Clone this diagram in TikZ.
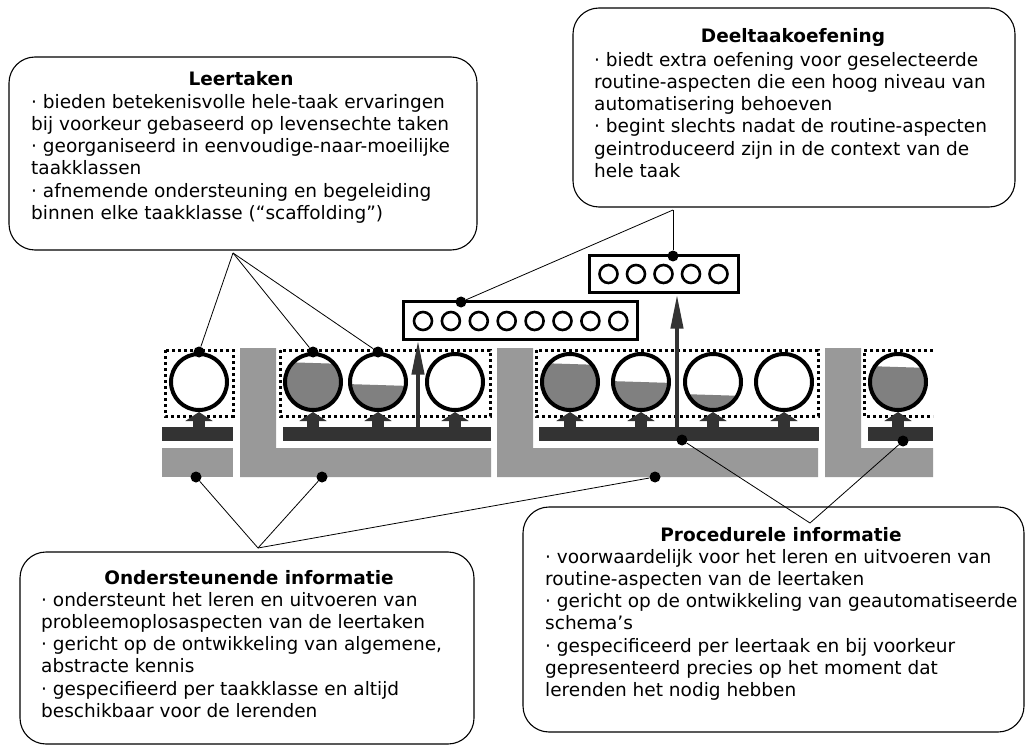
\documentclass[tikz,border=0pt]{standalone}
\usepackage{fontspec}
\setmainfont{DejaVu Sans}
\usetikzlibrary{positioning, calc, arrows.meta}

\definecolor{supportgrey}{gray}{0.6}
\definecolor{procgrey}{gray}{0.2}
\definecolor{levelgrey}{gray}{0.5}

\tikzset{
  callout/.style={draw, line width=1.1pt, rounded corners=26pt},
  calltitle/.style={font=\bfseries, anchor=base, inner sep=0pt},
  calltext/.style={align=left, anchor=north west, inner sep=0pt},
  taskcircle/.style={circle, draw, line width=4pt, minimum size=56pt, inner sep=0pt},
  partcircle/.style={circle, draw, line width=2.6pt, minimum size=18pt, inner sep=0pt},
  partbox/.style={draw, line width=3pt, inner sep=0pt},
  classframe/.style={line width=3pt, dash pattern=on 3pt off 3pt},
  procbar/.style={fill=procgrey, inner sep=0pt, outer sep=0pt, minimum height=14pt},
  enddot/.style={circle, fill=black, inner sep=0pt, minimum size=11pt},
  pointer/.style={line width=0.8pt},
  smallarrow/.style={procgrey, line width=12pt, -{Triangle[width=27pt,length=9pt]}},
  tallarrow/.style={procgrey, line width=4pt, -{Triangle[width=12pt,length=34pt]}},
}

\begin{document}
\begin{tikzpicture}[x=1pt, y=-1pt]
  \useasboundingbox (0,0) rectangle (1026,746);
  \fontsize{18.5}{22.2}\selectfont

  % support information (light grey)
  \fill[supportgrey] (162,448) rectangle (233,477);
  \fill[supportgrey] (240,348) -- (276,348) -- (276,448) -- (491,448) -- (491,477) -- (240,477) -- cycle;
  \fill[supportgrey] (497,348) -- (533,348) -- (533,448) -- (818,448) -- (818,477) -- (497,477) -- cycle;
  \fill[supportgrey] (825,348) -- (861,348) -- (861,448) -- (933,448) -- (933,477) -- (825,477) -- cycle;

  % procedural information (dark bars)
  \node[procbar, minimum width=71pt] (bar1) at (197.5,434) {};
  \node[procbar, minimum width=208pt] (bar2) at (387,434) {};
  \node[procbar, minimum width=280pt] (bar3) at (679,434) {};
  \node[procbar, minimum width=65pt] (bar4) at (900.5,434) {};

  % task classes
  \draw[classframe] (165,350) rectangle (233,416);
  \draw[classframe] (280,350) rectangle (490,416);
  \draw[classframe] (536,350) rectangle (818,416);
  \draw[classframe] (933,350) -- (864,350) -- (864,416) -- (933,416);

  % learning tasks
  \foreach \name/\x/\lev/\bar in {t1/199/430/bar1, t2/313/362/bar2, t3/378/384/bar2,
      t4/455/430/bar2, t5/570/363/bar3, t6/641/381/bar3, t7/713/394/bar3,
      t8/784/430/bar3, t9/898/366/bar4} {
    \begin{scope}
      \clip (\x,382) circle (28pt);
      \fill[levelgrey] (\x-32,\lev) -- (\x+32,\lev+2) -- (\x+32,420) -- (\x-32,420) -- cycle;
    \end{scope}
    \node[taskcircle] (\name) at (\x,382) {};
    \draw[smallarrow] (\bar.north -| \name.south) -- (\name.south);
  }

  % part-task practice
  \node[partbox, minimum width=234pt, minimum height=37pt] (partA) at (520,320.5) {};
  \foreach \i in {0,...,7}
    \node[partcircle] (pa\i) at (423+27.9*\i,321) {};
  \node[partbox, minimum width=149pt, minimum height=37pt] (partB) at (663.5,274.5) {};
  \foreach \i in {0,...,4}
    \node[partcircle] (pb\i) at (608.5+27.5*\i,274) {};

  \draw[tallarrow] (bar2.north -| 418,0) -- (partA.south -| 418,0);
  \draw[tallarrow] (bar3.north -| 677,0) -- (partB.south -| 677,0);

  % callouts
  \draw[callout] (9,57) rectangle (477,250);
  \node[calltitle] (leerT) at (241,86) {Leertaken};
  \node[calltext] (leerB) at (31,94) {· bieden betekenisvolle hele-taak ervaringen\\
    bij voorkeur gebaseerd op levensechte taken\\
    · georganiseerd in eenvoudige-naar-moeilijke\\
    taakklassen\\
    · afnemende ondersteuning en begeleiding\\
    binnen elke taakklasse (“scaffolding”)};

  \draw[callout] (573,8) rectangle (1015,207);
  \node[calltitle] (deelT) at (793,43) {Deeltaakoefening};
  \node[calltext] (deelB) at (594,52) {· biedt extra oefening voor geselecteerde\\
    routine-aspecten die een hoog niveau van\\
    automatisering behoeven\\
    · begint slechts nadat de routine-aspecten\\
    geintroduceerd zijn in de context van de\\
    hele taak};

  \draw[callout] (20,552) rectangle (474,744);
  \node[calltitle] (ondT) at (249,584) {Ondersteunende informatie};
  \node[calltext] (ondB) at (41,592) {· ondersteunt het leren en uitvoeren van\\
    probleemoplosaspecten van de leertaken\\
    · gericht op de ontwikkeling van algemene,\\
    abstracte kennis\\
    · gespecifieerd per taakklasse en altijd\\
    beschikbaar voor de lerenden};

  \draw[callout] (523,507) rectangle (1024,732);
  \node[calltitle] (procT) at (781,541) {Procedurele informatie};
  \node[calltext] (procB) at (545,549) {· voorwaardelijk voor het leren en uitvoeren van\\
    routine-aspecten van de leertaken\\
    · gericht op de ontwikkeling van geautomatiseerde\\
    schema’s\\
    · gespecificeerd per leertaak en bij voorkeur\\
    gepresenteerd precies op het moment dat\\
    lerenden het nodig hebben};

  % pointers
  \coordinate (leerV) at (233,253);
  \node[enddot] (dt1) at (t1.north) {};
  \node[enddot] (dt2) at (t2.north) {};
  \node[enddot] (dt3) at (t3.north) {};
  \foreach \d in {dt1,dt2,dt3}
    \draw[pointer] (leerV) -- (\d);

  \coordinate (deelV) at (673,210);
  \node[enddot] (dpa) at (461,302) {};
  \node[enddot] (dpb) at (673,256) {};
  \draw[pointer] (deelV) -- (dpa);
  \draw[pointer] (deelV) -- (dpb);

  \coordinate (ondV) at (258,548);
  \node[enddot] (ds1) at (196,477) {};
  \node[enddot] (ds2) at (322,477) {};
  \node[enddot] (ds3) at (655,477) {};
  \foreach \d in {ds1,ds2,ds3}
    \draw[pointer] (ondV) -- (\d);

  \coordinate (procV) at (810,523);
  \node[enddot] (dp1) at (682,440) {};
  \node[enddot] (dp2) at (903,441) {};
  \draw[pointer] (procV) -- (dp1);
  \draw[pointer] (procV) -- (dp2);
\end{tikzpicture}
\end{document}
